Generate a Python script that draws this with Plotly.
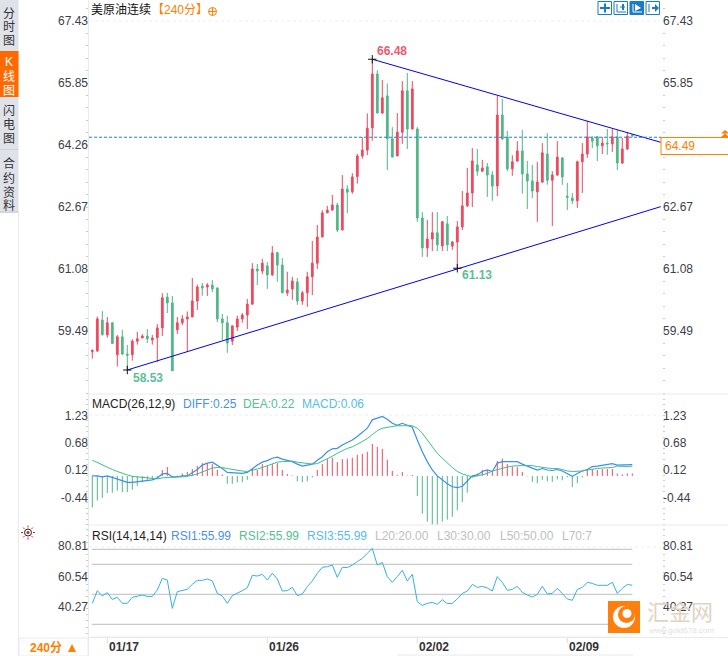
import math
import plotly.graph_objects as go

W, H = 728, 656

# candles, oldest first
opens = [58.95, 58.97, 59.76, 59.38, 59.69, 58.87, 59.33, 58.89, 58.87, 59.22, 59.30, 59.35, 59.25, 59.31, 59.56, 60.35, 60.20, 59.51, 59.69, 59.79,
         59.84, 60.25, 60.63, 60.61, 60.66, 60.58, 59.79, 59.69, 59.22, 59.58, 59.79, 59.89, 60.17, 61.07, 61.02, 61.15, 60.92, 61.49, 61.17, 60.46,
         60.56, 60.74, 60.25, 60.46, 60.87, 61.22, 61.89, 62.51, 62.58, 62.71, 62.07, 63.12, 63.05, 63.44, 63.97, 64.12, 64.69, 66.07, 65.07, 65.51,
         64.41, 63.97, 64.58, 65.64, 64.66, 64.66, 62.38, 61.61, 61.84, 62.00, 61.66, 62.23, 61.66, 61.76, 62.15, 62.69, 63.02, 63.74, 63.58, 63.69,
         63.48, 63.20, 65.02, 64.45, 63.64, 63.84, 64.10, 63.51, 63.33, 63.05, 63.30, 64.02, 63.35, 63.48, 63.92, 62.94, 62.89, 62.82, 63.82, 64.02,
         64.43, 64.46, 64.23, 64.30, 64.28, 64.46, 63.79, 64.15, 64.51]
highs = [59.01, 59.85, 59.99, 59.84, 59.71, 59.38, 59.51, 59.12, 59.27, 59.46, 59.40, 59.53, 59.38, 59.66, 60.45, 60.46, 60.38, 59.84, 59.89, 59.98,
         60.84, 60.67, 60.71, 60.71, 60.79, 60.60, 59.92, 59.87, 59.63, 59.87, 59.94, 60.30, 61.22, 61.20, 61.33, 61.25, 61.66, 61.51, 61.35, 61.00,
         60.87, 60.84, 60.51, 61.00, 61.79, 62.20, 62.58, 62.69, 62.97, 62.77, 63.48, 63.22, 63.53, 64.02, 64.45, 65.06, 66.45, 66.17, 65.92, 65.83,
         64.71, 65.07, 65.89, 66.10, 65.89, 64.71, 62.53, 62.33, 62.53, 62.53, 62.30, 62.43, 61.79, 62.30, 63.07, 63.66, 64.17, 64.15, 63.87, 63.79,
         63.58, 65.51, 65.43, 64.61, 63.99, 64.35, 64.64, 63.84, 63.74, 63.82, 64.30, 64.56, 63.58, 64.35, 63.94, 63.28, 63.02, 63.85, 64.30, 64.87,
         64.48, 64.48, 64.46, 64.66, 64.66, 64.64, 64.43, 64.58, 64.52]
lows = [58.77, 58.94, 59.36, 59.31, 59.16, 58.57, 58.86, 58.48, 58.72, 59.13, 59.30, 59.17, 59.13, 58.68, 59.35, 59.94, 58.46, 59.40, 59.63, 58.94,
        59.84, 60.02, 60.38, 60.38, 60.48, 59.71, 59.25, 58.92, 59.12, 59.48, 59.69, 59.53, 60.15, 60.66, 60.94, 60.56, 60.89, 60.74, 60.46, 60.38,
        60.28, 60.15, 60.15, 60.10, 60.40, 61.07, 61.89, 62.51, 62.58, 62.02, 62.07, 62.50, 63.00, 63.26, 63.90, 63.99, 64.36, 65.07, 65.05, 63.61,
        63.94, 63.97, 64.28, 64.15, 64.66, 62.28, 61.38, 61.38, 61.53, 61.53, 61.53, 61.53, 61.56, 61.09, 62.07, 62.66, 62.66, 63.46, 63.56, 62.92,
        62.82, 62.94, 64.38, 63.58, 63.46, 63.82, 63.00, 62.61, 62.89, 62.28, 63.28, 63.23, 62.17, 63.46, 63.23, 62.58, 62.74, 62.64, 63.02, 63.92,
        64.17, 63.84, 64.02, 64.00, 64.07, 63.61, 63.76, 64.12, 64.46]
closes = [58.98, 59.79, 59.39, 59.69, 59.16, 59.33, 58.89, 58.86, 59.22, 59.28, 59.35, 59.28, 59.30, 59.56, 60.33, 60.20, 58.46, 59.69, 59.79, 59.84,
          60.25, 60.61, 60.58, 60.66, 60.56, 59.79, 59.69, 59.17, 59.61, 59.79, 59.89, 60.17, 61.07, 61.02, 61.22, 60.92, 61.48, 61.17, 60.46, 60.53,
          60.76, 60.25, 60.46, 60.87, 61.22, 61.89, 62.51, 62.58, 62.71, 62.07, 63.12, 63.04, 63.43, 63.97, 64.12, 64.68, 66.07, 65.07, 65.46, 64.41,
          63.94, 64.58, 65.64, 64.66, 65.69, 62.38, 61.61, 61.84, 62.00, 61.69, 62.28, 61.69, 61.76, 62.15, 62.69, 63.02, 63.84, 63.58, 63.66, 63.48,
          63.20, 65.02, 64.41, 63.64, 63.82, 64.10, 63.51, 63.33, 63.07, 63.30, 64.05, 63.35, 63.48, 63.94, 63.43, 62.91, 62.82, 63.82, 64.02, 64.46,
          64.35, 64.23, 64.30, 64.28, 64.46, 63.79, 64.15, 64.48, 64.49]

diff_line = [0.00, 0.00, -0.02, 0.00, -0.03, -0.06, -0.10, -0.13, -0.13, -0.12, -0.10, -0.10, -0.08, -0.04, 0.04, 0.05, -0.02, -0.02, 0.00, 0.00,
             0.07, 0.13, 0.22, 0.26, 0.28, 0.22, 0.15, 0.07, 0.06, 0.05, 0.05, 0.07, 0.15, 0.22, 0.28, 0.31, 0.36, 0.38, 0.34, 0.31,
             0.29, 0.24, 0.20, 0.22, 0.24, 0.32, 0.39, 0.49, 0.55, 0.56, 0.63, 0.68, 0.73, 0.80, 0.88, 0.97, 1.14, 1.18, 1.21, 1.15,
             1.07, 1.03, 1.07, 1.03, 0.99, 0.73, 0.49, 0.29, 0.12, 0.00, -0.08, -0.16, -0.22, -0.24, -0.21, -0.10, 0.00, 0.02, 0.09, 0.12,
             0.09, 0.26, 0.29, 0.29, 0.29, 0.29, 0.24, 0.20, 0.17, 0.12, 0.15, 0.12, 0.11, 0.13, 0.10, 0.05, -0.01, 0.05, 0.10, 0.13,
             0.19, 0.20, 0.22, 0.24, 0.25, 0.22, 0.22, 0.23, 0.23]
dea_line = [0.32, 0.27, 0.22, 0.17, 0.13, 0.09, 0.05, 0.02, -0.01, -0.02, -0.03, -0.04, -0.06, -0.06, -0.04, -0.03, -0.02, -0.02, -0.02, -0.01,
            0.01, 0.04, 0.08, 0.12, 0.16, 0.17, 0.17, 0.15, 0.13, 0.11, 0.10, 0.09, 0.11, 0.14, 0.17, 0.21, 0.25, 0.28, 0.29, 0.30,
            0.30, 0.28, 0.27, 0.25, 0.24, 0.25, 0.30, 0.34, 0.40, 0.46, 0.51, 0.56, 0.59, 0.64, 0.70, 0.76, 0.85, 0.92, 0.97, 0.99,
            1.01, 1.02, 1.02, 1.02, 1.02, 0.97, 0.87, 0.73, 0.59, 0.46, 0.36, 0.26, 0.17, 0.09, 0.04, 0.01, -0.02, 0.00, 0.02, 0.05,
            0.10, 0.13, 0.15, 0.18, 0.20, 0.21, 0.21, 0.21, 0.21, 0.19, 0.17, 0.16, 0.15, 0.15, 0.13, 0.10, 0.09, 0.09, 0.10, 0.12,
            0.14, 0.15, 0.16, 0.17, 0.17, 0.20, 0.19, 0.19, 0.20]
macd_bars = [-0.64, -0.50, -0.45, -0.35, -0.34, -0.30, -0.33, -0.33, -0.28, -0.20, -0.13, -0.08, -0.08, -0.06, 0.12, 0.18, -0.03, 0.01, 0.05, 0.08,
             0.14, 0.20, 0.26, 0.26, 0.24, 0.12, 0.03, -0.16, -0.16, -0.13, -0.13, -0.08, 0.14, 0.12, 0.24, 0.21, 0.24, 0.26, 0.12, 0.04,
             0.01, -0.11, -0.13, -0.11, -0.03, 0.12, 0.24, 0.34, 0.37, 0.28, 0.34, 0.35, 0.37, 0.43, 0.45, 0.49, 0.65, 0.59, 0.55, 0.33,
             0.10, 0.02, 0.08, 0.01, 0.02, -0.41, -0.77, -0.93, -0.99, -0.99, -0.93, -0.89, -0.83, -0.70, -0.53, -0.34, -0.03, 0.05, 0.12, 0.12,
             0.10, 0.30, 0.35, 0.24, 0.19, 0.18, 0.08, -0.01, -0.12, -0.15, -0.08, -0.11, -0.12, -0.07, -0.09, -0.03, -0.23, -0.15, -0.03, 0.12,
             0.14, 0.12, 0.14, 0.14, 0.14, 0.05, 0.03, 0.05, 0.05]
rsi_line = [44.0, 52.4, 48.9, 51.1, 46.6, 48.0, 44.0, 44.0, 48.0, 48.6, 49.5, 48.6, 48.6, 52.9, 60.6, 59.5, 40.6, 51.8, 52.6, 53.3,
            56.6, 59.3, 59.3, 60.2, 58.9, 50.6, 48.9, 44.0, 49.1, 50.6, 52.4, 54.4, 62.6, 62.2, 63.3, 59.5, 64.0, 60.2, 52.2, 52.4,
            54.6, 49.1, 50.2, 55.1, 58.9, 64.0, 68.0, 68.4, 69.5, 61.3, 68.0, 67.8, 69.5, 71.8, 74.0, 77.3,
            80.6, 69.5, 71.3, 61.8, 58.0, 61.8, 66.0, 58.9, 63.3, 45.1, 42.6, 44.0, 44.6, 43.3, 46.4, 43.8, 44.0, 46.9, 50.6, 52.2,
            56.6, 54.6, 55.3, 54.2, 52.2, 61.8, 58.0, 52.6, 53.3, 55.3, 51.3, 49.5, 48.2, 50.0, 55.3, 50.2, 50.6, 54.0, 50.6, 46.9,
            46.0, 53.3, 54.6, 58.0, 57.3, 56.0, 56.0, 56.0, 58.0, 50.6, 54.0, 56.6, 56.0]
rsi_levels = [80, 70, 50, 30, 21.3]

price_ticks = [67.43, 65.85, 64.26, 62.67, 61.08, 59.49]
price_ticks_right = [67.43, 65.85, 62.67, 61.08, 59.49]  # 64.26 sits under the last price box
macd_ticks = [1.23, 0.68, 0.12, -0.44]
rsi_ticks = [80.81, 60.54, 40.27]
date_idx = [3, 35, 65, 95]
date_labels = ['01/17', '01/26', '02/02', '02/09']

# hand drawn trend lines: [start index, end index], [start price, end price]
lower_x, lower_y = [7, 113.7], [58.48, 62.67]
upper_x, upper_y = [56, 113.7], [66.45, 64.32]
last_price = 64.45

RED = '#ea4a5e'
GREEN = '#50b688'
ORANGE = '#ff8000'
AXIS = '#e6ebf0'
TEXT = '#3a3f4a'

x = list(range(len(opens)))


def px(v):
    return v / W


def py(v):
    return 1 - v / H


def txt(x0, y0, s, color=TEXT, size=12, anchor='left', bold=False):
    if bold:
        s = '<b>' + s + '</b>'
    fig.add_annotation(x=px(x0), y=py(y0), xref='paper', yref='paper', text=s, showarrow=False,
                       xanchor=anchor, yanchor='middle', borderpad=0, font=dict(color=color, size=size))


def line(x0, y0, x1, y1, color, width=1, dash=None):
    fig.add_shape(type='line', xref='paper', yref='paper', x0=px(x0), y0=py(y0), x1=px(x1), y1=py(y1),
                  line=dict(color=color, width=width, dash=dash))


def rect(x0, y0, x1, y1, fill, color=None, width=0):
    fig.add_shape(type='rect', xref='paper', yref='paper', x0=px(x0), y0=py(y0), x1=px(x1), y1=py(y1),
                  fillcolor=fill, line=dict(color=color, width=width))


def circle(cx, cy, r, fill, color=None, width=0):
    fig.add_shape(type='circle', xref='paper', yref='paper', x0=px(cx - r), y0=py(cy - r), x1=px(cx + r), y1=py(cy + r),
                  fillcolor=fill, line=dict(color=color, width=width))


def stems(want_up):
    # one thin vertical line per macd value
    xs, ys = [], []
    for i, v in zip(x, macd_bars):
        if (v >= 0) == want_up:
            xs += [i, i, None]
            ys += [0, v, None]
    return xs, ys


fig = go.Figure()

# price pane
fig.add_trace(go.Candlestick(x=x, open=opens, high=highs, low=lows, close=closes, xaxis='x', yaxis='y',
                             increasing=dict(line=dict(color=RED, width=1), fillcolor=RED),
                             decreasing=dict(line=dict(color=GREEN, width=1), fillcolor=GREEN),
                             whiskerwidth=0, showlegend=False, hoverinfo='skip'))
fig.add_trace(go.Scatter(x=lower_x, y=lower_y, mode='lines', line=dict(color='#0000ee', width=1), yaxis='y', showlegend=False))
fig.add_trace(go.Scatter(x=upper_x, y=upper_y, mode='lines', line=dict(color='#0000ee', width=1), yaxis='y', showlegend=False))
fig.add_trace(go.Scatter(x=[7, 56, 73], y=[lows[7], highs[56], lows[73]], mode='markers', yaxis='y', showlegend=False,
                         marker=dict(symbol='cross-thin', size=6, line=dict(color='#111111', width=1))))

# macd pane
up_x, up_y = stems(True)
dn_x, dn_y = stems(False)
fig.add_trace(go.Scatter(x=up_x, y=up_y, mode='lines', line=dict(color=RED, width=1), yaxis='y2', showlegend=False))
fig.add_trace(go.Scatter(x=dn_x, y=dn_y, mode='lines', line=dict(color=GREEN, width=1), yaxis='y2', showlegend=False))
fig.add_trace(go.Scatter(x=x, y=diff_line, mode='lines', line=dict(color='#3a8ff0', width=1.2), yaxis='y2', showlegend=False))
fig.add_trace(go.Scatter(x=x, y=dea_line, mode='lines', line=dict(color='#3cbf8a', width=1), yaxis='y2', showlegend=False))

# rsi pane
for lv in rsi_levels:
    fig.add_trace(go.Scatter(x=[-0.1, 108], y=[lv, lv], mode='lines', line=dict(color='#bdbdbd', width=1), yaxis='y3', showlegend=False))
fig.add_trace(go.Scatter(x=x, y=rsi_line, mode='lines', line=dict(color='#35b0e4', width=1), yaxis='y3', showlegend=False))

# empty traces so the right hand axes get drawn
for ya in ['y4', 'y5', 'y6']:
    fig.add_trace(go.Scatter(x=[None], y=[None], yaxis=ya, showlegend=False))


def y_axis(domain_px, rng, ticks, step, **kw):
    d = dict(domain=[1 - domain_px[1] / H, 1 - domain_px[0] / H], range=rng, tickmode='array', tickvals=ticks,
             ticktext=['%.2f' % t for t in ticks], showgrid=False, zeroline=False, ticks='', showline=False,
             tickfont=dict(size=12, color=TEXT),
             minor=dict(ticks='outside', ticklen=2, tickwidth=1, tickcolor='#c8ccd2', tickmode='linear', tick0=ticks[0], dtick=step))
    d.update(kw)
    return d


price_dom, macd_dom, rsi_dom = (0, 393), (394, 525), (525, 638)
price_rng, macd_rng, rsi_rng = [57.89, 67.97], [-0.998, 1.665], [20.87, 96.2]

fig.update_layout(
    width=W, height=H, margin=dict(l=0, r=0, t=0, b=0), paper_bgcolor='white', plot_bgcolor='white',
    font=dict(family='Liberation Sans, Noto Sans CJK SC, sans-serif'),
    showlegend=False, boxgap=0.5, hovermode=False,
    xaxis=dict(domain=[89 / W, 662 / W], range=[-0.66, 113.94], showticklabels=False, showgrid=False, zeroline=False,
               rangeslider=dict(visible=False), anchor='y3', ticks=''),
    yaxis=y_axis(price_dom, price_rng, price_ticks, 0.318),
    yaxis2=y_axis(macd_dom, macd_rng, macd_ticks, 0.111),
    yaxis3=y_axis(rsi_dom, rsi_rng, rsi_ticks, 4.05, ticklabelshift=-2),
    yaxis4=y_axis(price_dom, price_rng, price_ticks_right, 0.318, overlaying='y', side='right', anchor='x'),
    yaxis5=y_axis(macd_dom, macd_rng, macd_ticks, 0.111, overlaying='y2', side='right', anchor='x'),
    yaxis6=y_axis(rsi_dom, rsi_rng, rsi_ticks, 4.05, overlaying='y3', side='right', anchor='x', ticklabelshift=-2),
)

# pane frame
line(88.5, 0, 88.5, H, AXIS)
line(89, 394, W, 394, AXIS)
line(89, 525, W, 525, AXIS)
line(89, 637.5, W, 637.5, AXIS)
line(397, 655, 633, 655, AXIS)
line(89, 21, 660, 21, '#eeeeee', dash='3px,3px')
line(89, 415, 660, 415, '#eeeeee', dash='3px,3px')
line(89, 547, 660, 547, '#eeeeee', dash='3px,3px')

# last price line and box
fig.add_shape(type='line', xref='paper', yref='y', x0=px(89), x1=px(661), y0=last_price, y1=last_price,
              line=dict(color='#1e7fe0', width=1, dash='3px,2px'))
rect(661, 137.5, 729, 154.5, 'white', ORANGE, 1)
txt(664, 146, '64.49', ORANGE, 12)
fig.add_shape(type='path', xref='paper', yref='paper', fillcolor=ORANGE, line=dict(width=0),
              path='M %f %f L %f %f L %f %f Z M %f %f L %f %f L %f %f Z' % (
                  px(725), py(130), px(729), py(133.5), px(721), py(133.5),
                  px(725), py(133.5), px(729), py(137), px(721), py(137)))

# extreme labels
txt(376, 51.5, '66.48', '#ee5a70', 12, bold=True)
txt(132, 377.5, '58.53', '#5cbf98', 12, bold=True)
txt(461, 275, '61.13', '#5cbf98', 12, bold=True)

# header and pane titles
txt(90, 9.5, '美原油连续', '#111111', 12)
txt(151, 9.5, '【240分】', ORANGE, 12)
circle(212.5, 11.5, 4, 'white', ORANGE, 1)
line(208.5, 11.5, 216.5, 11.5, ORANGE)
line(212.5, 7.5, 212.5, 15.5, ORANGE)

txt(90.5, 403.5, 'MACD(26,12,9)', '#222222', 12)
txt(181.5, 403.5, 'DIFF:0.25', '#4a90e8', 12)
txt(241.5, 403.5, 'DEA:0.22', '#55c090', 12)
txt(300.5, 403.5, 'MACD:0.06', '#55bde8', 12)

txt(90.5, 535.5, 'RSI(14,14,14)', '#222222', 12)
txt(170, 535.5, 'RSI1:55.99', '#4a90e8', 12)
txt(238, 535.5, 'RSI2:55.99', '#55c090', 12)
txt(306, 535.5, 'RSI3:55.99', '#55bde8', 12)
for lx, s in zip([374, 436, 498.5, 560.5], ['L20:20.00', 'L30:30.00', 'L50:50.00', 'L70:7']):
    txt(lx, 535.5, s, '#c0c0c0', 12)

# date labels
for i, s in zip(date_idx, date_labels):
    xp = 92.3 + 5 * i
    line(xp, 638, xp, 643, '#d8dce0')
    txt(xp + 1, 646.5, s, '#333333', 12, bold=True)

# left tab column
rect(0, 0, 18.5, 213, '#e0e2ea')
rect(0, 51, 18.5, 97, '#ff6a00')
line(0, 149.5, 18.5, 149.5, '#cfd2da')
line(0, 212, 18.5, 212, '#c6c9d2')
line(18.5, 213, 18.5, H, AXIS)
for yy, s, c in [(14, '分', '#333333'), (27.5, '时', '#333333'), (41, '图', '#333333'),
                 (62, 'K', 'white'), (77, '线', 'white'), (91, '图', 'white'),
                 (111, '闪', '#333333'), (125, '电', '#333333'), (138.5, '图', '#333333'),
                 (163, '合', '#333333'), (178, '约', '#333333'), (193, '资', '#333333'), (206, '料', '#333333')]:
    txt(9, yy, s, c, 12, anchor='center')

rect(19, 638, 88, 656, 'white', AXIS, 1)
txt(29, 648, '240分', ORANGE, 12, bold=True)
fig.add_shape(type='path', xref='paper', yref='paper', fillcolor=ORANGE, line=dict(width=0),
              path='M %f %f L %f %f L %f %f Z' % (px(72), py(644), px(76), py(652), px(68), py(652)))

# settings icon
circle(28, 532.5, 3.5, 'white', '#222222', 1)
circle(28, 532.5, 1.6, '#e02020')
for a in range(0, 360, 45):
    ca, sa = math.cos(math.radians(a)), math.sin(math.radians(a))
    line(28 + 5 * ca, 532.5 + 5 * sa, 28 + 7 * ca, 532.5 + 7 * sa, '#e02020')

# toolbar
for n, bx in enumerate([598, 614, 630, 646]):
    rect(bx, 1.5, bx + 13.5, 14.5, '#1a7cc4' if n == 2 else 'white', '#1a7cc4', 1)
c = '#1a7cc4'
line(600, 8, 610, 8, c, 2)
line(605, 3.5, 605, 12.5, c, 2)
line(617, 4, 617, 12, c)
line(617, 12, 626, 12, c)
line(623, 4, 623, 10, c, 2)
line(620, 7, 625, 7, c)
line(633, 4, 633, 12, 'white')
line(633, 12, 642, 12, 'white')
fig.add_shape(type='path', xref='paper', yref='paper', fillcolor='white', line=dict(width=0),
              path='M %f %f L %f %f L %f %f Z' % (px(635), py(4), px(641), py(8), px(635), py(11)))
line(649, 4, 649, 12, c)
line(652, 8, 655, 8, c, 2)
fig.add_shape(type='path', xref='paper', yref='paper', fillcolor=c, line=dict(width=0),
              path='M %f %f L %f %f L %f %f Z' % (px(655), py(4), px(659), py(8), px(655), py(12)))

# watermark
rect(608, 601, 640, 633, '#ff7f0e')
circle(624, 617, 11, 'white')
circle(626.5, 614.5, 8.5, '#ff7f0e')
circle(627, 613.5, 4.5, 'white')
txt(646, 612, '汇金网', '#e2d2c4', 22)
txt(647, 630, 'www.gold678.com', '#e2e2e2', 8)

# plain page, no default body margin
fig.write_html("out.html", config={'displayModeBar': False},
               post_script="document.body.style.margin='0';window.dispatchEvent(new Event('resize'));")
